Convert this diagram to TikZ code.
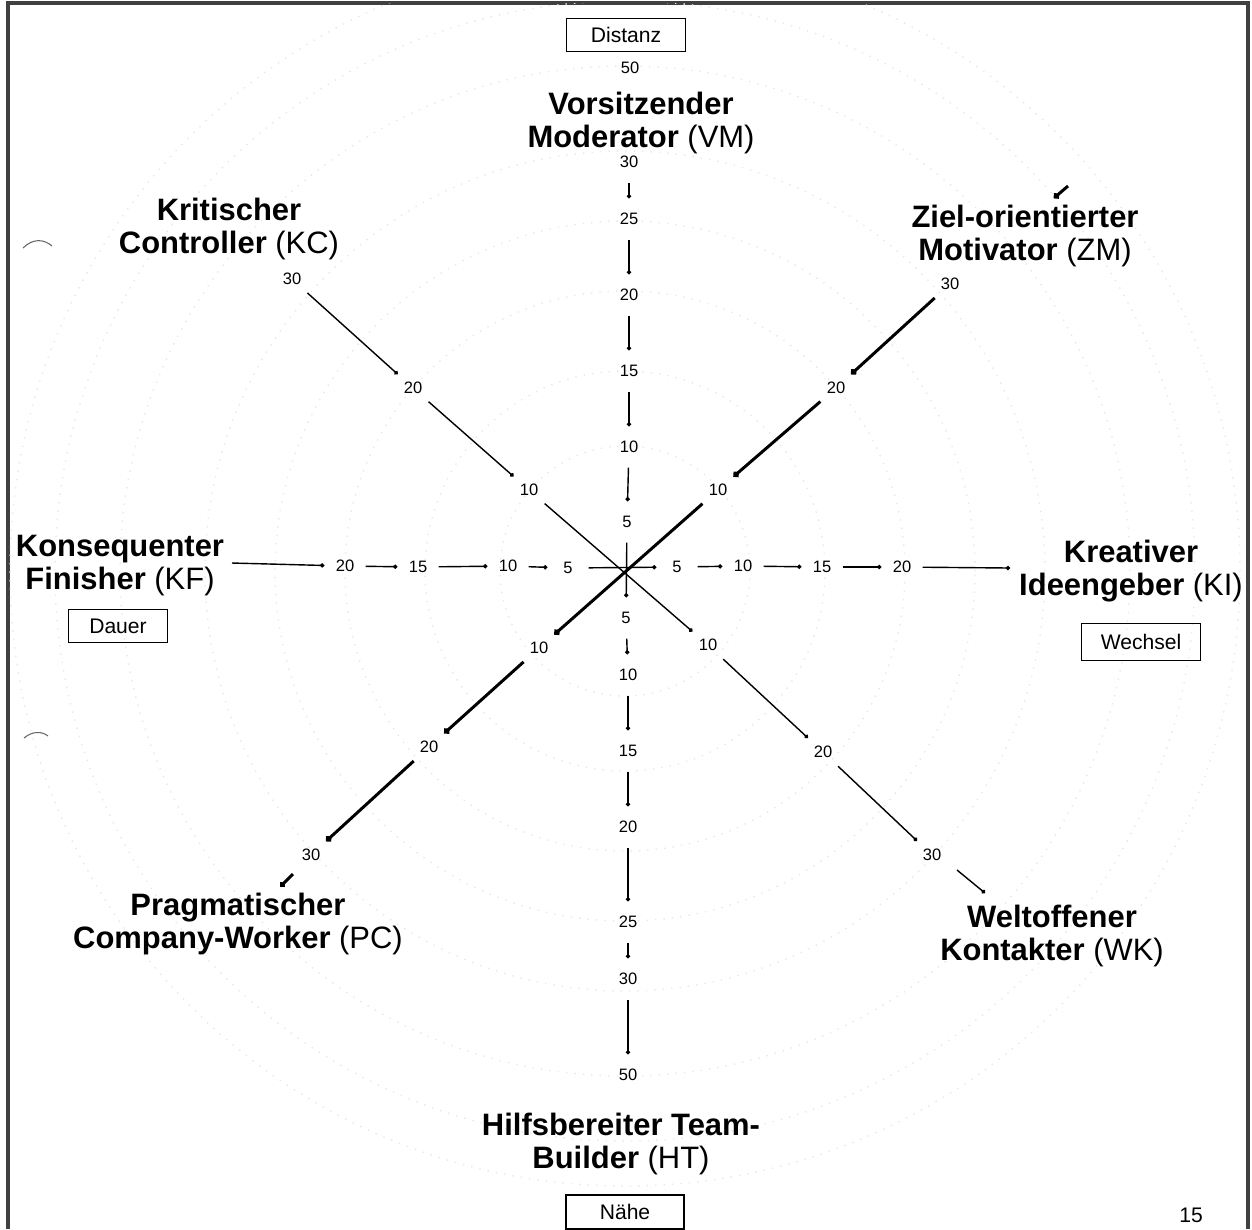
\documentclass[tikz,border=0pt]{standalone}
\usepackage{fontspec}
\setmainfont{Liberation Sans}
\usetikzlibrary{arrows.meta}

\begin{document}
\begin{tikzpicture}[x=0.01cm,y=-0.01cm,
  every node/.style={inner sep=0pt},
  num/.style={circle,minimum size=0.4cm,font=\fontsize{4.7}{5}\selectfont},
  role/.style={align=center,font=\fontsize{8.8}{9.4}\selectfont\bfseries},
  pole/.style={draw,line width=0.5pt,minimum width=1.19cm,minimum height=0.33cm,
    font=\fontsize{6}{7}\selectfont},
  axis/.style={line width=0.4pt,-{Circle[length=1.2pt]}},
  boldaxis/.style={line width=0.85pt,-{Circle[length=1.8pt]}}]
 \useasboundingbox (0,0) rectangle (1252,1229);
 % page frame and faint rings
 \draw[line width=1pt,black!75] (8,1229) -- (8,3) -- (1248,3) -- (1248,1229);
 \begin{scope}
  \clip (8,3) rectangle (1248,1229);
  \foreach \r in {125,200,280,350,420,505,570,615}{
   \draw[black!9,dotted,line width=0.4pt] (625,571) circle[radius=\r*0.01cm];}
 \end{scope}
 \draw[black!60,line width=0.3pt] (23,248) .. controls (33,238) and (44,239) .. (52,246);
 \draw[black!60,line width=0.3pt] (24,738) .. controls (32,731) and (42,731) .. (48,736);
 % scale marks
 \node[num] (vm50) at (630,68) {50};   \node[num] (vm30) at (629,162) {30};
 \node[num] (vm25) at (629,219) {25};  \node[num] (vm20) at (629,295) {20};
 \node[num] (vm15) at (629,371) {15};  \node[num] (vm10) at (629,447) {10};
 \node[num] (vm5) at (627,522) {5};
 \node[num] (ht5) at (626,618) {5};    \node[num] (ht10) at (628,675) {10};
 \node[num] (ht15) at (628,751) {15};  \node[num] (ht20) at (628,827) {20};
 \node[num] (ht25) at (628,922) {25};  \node[num] (ht30) at (628,979) {30};
 \node[num] (ht50) at (628,1075) {50};
 \node[num] (kf20) at (345,566) {20};  \node[num] (kf15) at (418,567) {15};
 \node[num] (kf10) at (508,566) {10};  \node[num] (kf5) at (568,568) {5};
 \node[num] (ki5) at (677,567) {5};    \node[num] (ki10) at (743,566) {10};
 \node[num] (ki15) at (822,567) {15};  \node[num] (ki20) at (902,567) {20};
 \node[num] (zm10) at (718,490) {10};  \node[num] (zm20) at (836,388) {20};
 \node[num] (zm30) at (950,284) {30};
 \node[num] (kc10) at (529,490) {10};  \node[num] (kc20) at (413,388) {20};
 \node[num] (kc30) at (292,279) {30};
 \node[num] (pc10) at (539,648) {10};  \node[num] (pc20) at (429,747) {20};
 \node[num] (pc30) at (311,855) {30};
 \node[num] (wk10) at (708,645) {10};  \node[num] (wk20) at (823,752) {20};
 \node[num] (wk30) at (932,855) {30};
 \coordinate (kfend) at (232,563); \coordinate (kiend) at (1010,568);
 \coordinate (zmA) at (1054,198);  \coordinate (zmB) at (1068,186);
 \coordinate (pcA) at (293,874);   \coordinate (pcB) at (280,887);
 \coordinate (wkA) at (957,870);   \coordinate (wkB) at (985,893);
 % axes
 \foreach \a/\b in {vm30/vm25,vm25/vm20,vm20/vm15,vm15/vm10,vm10/vm5,vm5/ht5,
   ht5/ht10,ht10/ht15,ht15/ht20,ht20/ht25,ht25/ht30,ht30/ht50,
   kfend/kf20,kf20/kf15,kf15/kf10,kf10/kf5,kf5/ki5,ki5/ki10,ki10/ki15,ki15/ki20,ki20/kiend,
   kc30/kc20,kc20/kc10,kc10/wk10,wk10/wk20,wk20/wk30,wkA/wkB}{
  \draw[axis] (\a) -- (\b);}
 \foreach \a/\b in {zmB/zmA,zm30/zm20,zm20/zm10,zm10/pc10,pc10/pc20,pc20/pc30,pcA/pcB}{
  \draw[boldaxis] (\a) -- (\b);}
 % roles
 \node[role] (vm) at (641,123) {Vorsitzender\\Moderator {\mdseries(VM)}};
 \node[role] (kc) at (229,229) {Kritischer\\Controller {\mdseries(KC)}};
 \node[role] (zm) at (1025,236) {Ziel-orientierter\\Motivator {\mdseries(ZM)}};
 \node[role] (kf) at (120,566) {Konsequenter\\Finisher {\mdseries(KF)}};
 \node[role] (ki) at (1131,571) {Kreativer\\Ideengeber {\mdseries(KI)}};
 \node[role] (pc) at (238,924) {Pragmatischer\\Company-Worker {\mdseries(PC)}};
 \node[role] (wk) at (1052,936) {Weltoffener\\Kontakter {\mdseries(WK)}};
 \node[role] (ht) at (621,1144) {Hilfsbereiter Team-\\Builder {\mdseries(HT)}};
 % poles
 \node[pole] (distanz) at (626,35) {Distanz};
 \node[pole,minimum width=0.99cm] (dauer) at (118,626) {Dauer};
 \node[pole,minimum height=0.37cm] (wechsel) at (1141,642) {Wechsel};
 \node[pole,minimum width=1.18cm,minimum height=0.34cm] (naehe) at (625,1212) {Nähe};
 \node[font=\fontsize{6}{7}\selectfont] (page) at (1191,1215) {15};
\end{tikzpicture}
\end{document}
